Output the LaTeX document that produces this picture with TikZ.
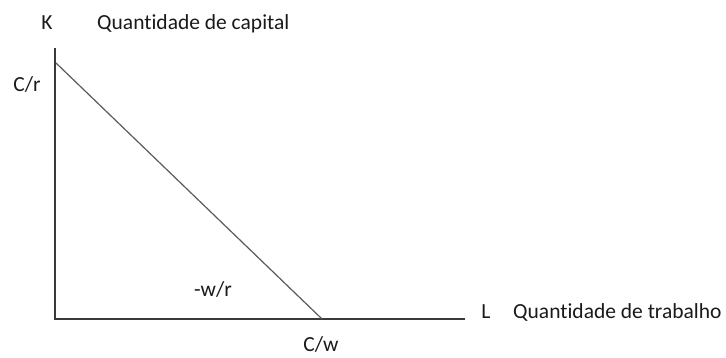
\documentclass[tikz,border=0pt]{standalone}
\usepackage{fontspec}
\setmainfont{Carlito}[Ligatures=NoCommon]
\usepackage{tikz}
\usetikzlibrary{positioning}
\definecolor{Ink}{HTML}{1A1A1A}
\definecolor{AxisGray}{HTML}{3A3A3A}
\definecolor{LineGray}{HTML}{5A5A5A}
\tikzset{
  axis/.style={draw=AxisGray,line width=1.6pt},
  budget/.style={draw=LineGray,line width=1.2pt},
  lbl/.style={text=Ink,inner sep=0pt,anchor=base,font=\fontsize{21.5}{26}\selectfont}
}

\begin{document}
\begin{tikzpicture}[x=1pt,y=-1pt]
  \useasboundingbox (0,0) rectangle (726,358);
  % axes
  \coordinate (O) at (55,319);
  \coordinate (ktop) at (55,48);
  \coordinate (lend) at (465,319);
  \coordinate (kint) at (56,63);
  \coordinate (lint) at (322,319);
  \draw[axis] (ktop) -- (O) -- (lend);
  \draw[budget] (kint) -- (lint);
  % labels
  \node[lbl] (kname) at (47,30) {K};
  \node[lbl,anchor=base west] (ktext) at (97,30) {Quantidade de capital};
  \node[lbl] (cr) at (27,92) {C/r};
  \node[lbl] (slope) at (213,297) {-w/r};
  \node[lbl] (cw) at (321,352) {C/w};
  \node[lbl] (lname) at (486,318) {L};
  \node[lbl,anchor=base west] (ltext) at (513,318) {Quantidade de trabalho};
\end{tikzpicture}
\end{document}
